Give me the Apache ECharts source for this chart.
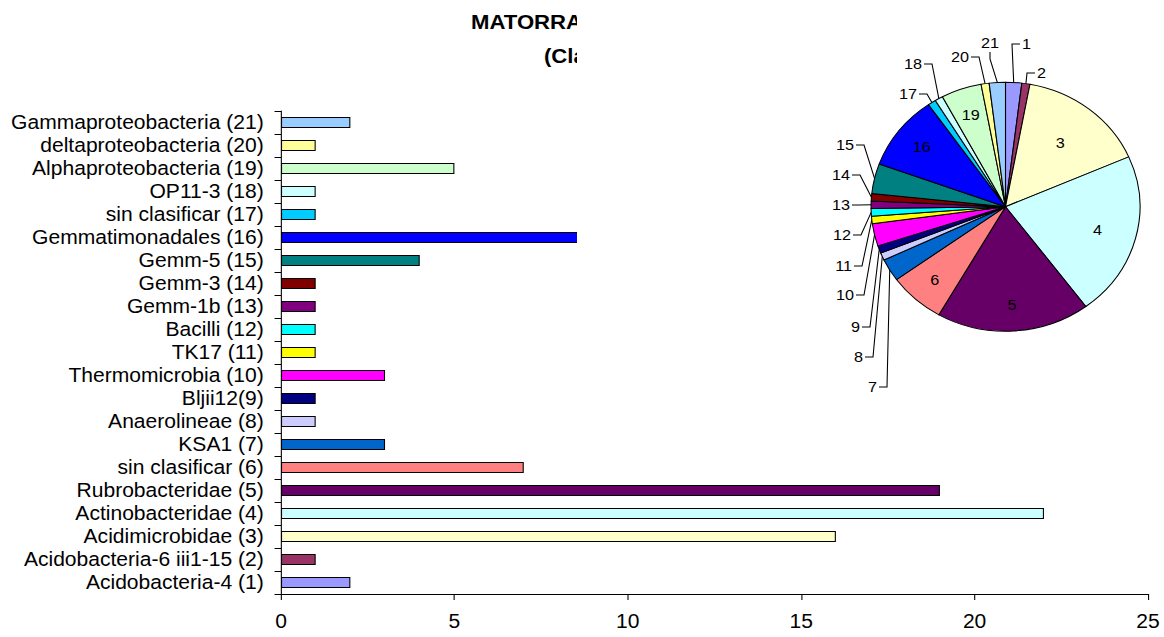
<!DOCTYPE html>
<html>
<head>
<meta charset="utf-8">
<script src="https://cdn.jsdelivr.net/npm/echarts@6/dist/echarts.min.js"></script>
<style>
  html, body { margin: 0; padding: 0; background: #fff; overflow: hidden; }
  /* The chart is laid out slightly narrower and stretched back horizontally,
     which gives the wide lettering and the oval pie of the original figure. */
  #chart { width: 1078px; height: 637px; transform: scaleX(1.08); transform-origin: 0 0; }
</style>
</head>
<body>
<div id="chart"></div>
<script>
// ---- data -------------------------------------------------------------
const classNames = [
  'Acidobacteria-4 (1)', 'Acidobacteria-6 iii1-15 (2)', 'Acidimicrobidae (3)',
  'Actinobacteridae (4)', 'Rubrobacteridae (5)', 'sin clasificar (6)', 'KSA1 (7)',
  'Anaerolineae (8)', 'Bljii12(9)', 'Thermomicrobia (10)', 'TK17 (11)', 'Bacilli (12)',
  'Gemm-1b (13)', 'Gemm-3 (14)', 'Gemm-5 (15)', 'Gemmatimonadales (16)',
  'sin clasificar (17)', 'OP11-3 (18)', 'Alphaproteobacteria (19)',
  'deltaproteobacteria (20)', 'Gammaproteobacteria (21)'
];
const classNumbers = ['1', '2', '3', '4', '5', '6', '7', '8', '9', '10', '11',
  '12', '13', '14', '15', '16', '17', '18', '19', '20', '21'];
const cloneCounts = [2, 1, 16, 22, 19, 7, 3, 1, 1, 3, 1, 1, 1, 1, 4, 10, 1, 1, 5, 1, 2];
const xAxisMin = 0;
const xAxisMax = 25;
const xAxisStep = 5;
const titleLines = ['MATORRAL', '(Clases)'];

// ---- styling ----------------------------------------------------------
const STRETCH = 1.08;
const sx = v => v / STRETCH;
const FONT = '"Liberation Sans", Arial, Helvetica, sans-serif';
const classColors = [
  '#9999FF', '#993366', '#FFFFCC', '#CCFFFF', '#660066', '#FF8080', '#0066CC',
  '#CCCCFF', '#000080', '#FF00FF', '#FFFF00', '#00FFFF', '#800080', '#800000',
  '#008080', '#0000FF', '#00CCFF', '#CCFFFF', '#CCFFCC', '#FFFF99', '#99CCFF'
];
// slices numbered inside the pie (with how far out along the slice); the rest get a leader line
const insideLabelled = { '3': 1.25, '4': 1.35, '5': 1.5, '6': 1.5, '16': 1.5, '19': 1.5 };
// where each outside label sits: [edge x, centre y, side the leader line leaves from]
const pieLabelSpots = {
  '1': [1022, 44, 'l'], '2': [1037, 73, 'l'], '21': [990, 43, 'b'],
  '20': [969, 57, 'r'], '18': [922, 64, 'r'], '17': [917, 94, 'r'],
  '15': [854, 145, 'r'], '14': [850, 175, 'r'], '13': [850, 205, 'r'],
  '12': [851, 235, 'r'], '11': [852, 266, 'r'], '10': [854, 295, 'r'],
  '9': [860, 327, 'r'], '8': [863, 357, 'r'], '7': [877, 387, 'r']
};
const PIE_CX = sx(1005.5);
const PIE_CY = 206.7;
const PIE_R = 124.5;

const chart = echarts.init(document.getElementById('chart'), null, { renderer: 'svg' });

const option = {
  animation: false,
  backgroundColor: '#fff',
  textStyle: { fontFamily: FONT },
  grid: { left: sx(281), right: 1078 - sx(1148), top: 111, bottom: 43, containLabel: false },
  xAxis: {
    type: 'value',
    min: xAxisMin, max: xAxisMax, interval: xAxisStep,
    axisLine: { show: true, lineStyle: { color: '#000', width: 1 } },
    axisTick: { show: true, length: 6, lineStyle: { color: '#000' } },
    axisLabel: { color: '#000', fontSize: 19.5, fontFamily: FONT, margin: 17 },
    splitLine: { show: false }
  },
  yAxis: {
    type: 'category',
    data: classNames,
    axisLine: { show: true, lineStyle: { color: '#000', width: 1 } },
    axisTick: { show: true, interval: 0, length: 6, lineStyle: { color: '#000' } },
    axisLabel: { interval: 0, color: '#000', fontSize: 19.5, fontFamily: FONT, margin: 16 }
  },
  series: [
    {
      type: 'bar',
      barWidth: 11,
      z: 2,
      data: cloneCounts.map((v, i) => ({
        value: v,
        itemStyle: { color: classColors[i], borderColor: '#000', borderWidth: 1 }
      }))
    },
    {
      type: 'pie',
      z: 60,
      center: [PIE_CX, PIE_CY],
      radius: PIE_R,
      startAngle: 90,
      clockwise: true,
      avoidLabelOverlap: false,
      itemStyle: { borderColor: '#000', borderWidth: 1 },
      label: { show: true, formatter: '{b}', color: '#000', fontSize: 15, fontFamily: FONT },
      labelLine: { show: true, length: 8, length2: 8, smooth: false,
                   lineStyle: { color: '#000', width: 1 } },
      data: cloneCounts.map((v, i) => {
        const inside = classNumbers[i] in insideLabelled;
        return {
          value: v,
          name: classNumbers[i],
          itemStyle: { color: classColors[i] },
          label: { position: inside ? 'inside' : 'outside' },
          labelLine: { show: !inside }
        };
      }),
      labelLayout: function (p) {
        const num = classNumbers[p.dataIndex];
        if (num in insideLabelled) {
          // push the inside numbers further out along their slice
          const k = insideLabelled[num];
          const lx = p.labelRect.x + p.labelRect.width / 2;
          const ly = p.labelRect.y + p.labelRect.height / 2;
          return {
            x: PIE_CX + (lx - PIE_CX) * k,
            y: PIE_CY + (ly - PIE_CY) * k,
            align: 'center', verticalAlign: 'middle'
          };
        }
        const spot = pieLabelSpots[num];
        const ex = sx(spot[0]);
        const ey = spot[1];
        const anchor = p.labelLinePoints ? p.labelLinePoints[0] : [ex, ey];
        let pts, align;
        if (spot[2] === 'r') {
          align = 'right';
          pts = [anchor, [ex + sx(10), ey], [ex + sx(2), ey]];
        } else if (spot[2] === 'l') {
          align = 'left';
          pts = [anchor, [ex - sx(10), ey], [ex - sx(2), ey]];
        } else {
          align = 'center';
          pts = [anchor, [ex, ey + 16], [ex, ey + 9]];
        }
        return { x: ex, y: ey, align: align, verticalAlign: 'middle', labelLinePoints: pts };
      }
    }
  ],
  graphic: [
    {
      type: 'text', left: sx(471), top: 12, z: 5,
      style: { text: titleLines[0], font: 'bold 20.5px ' + FONT, fill: '#000' }
    },
    {
      type: 'text', left: sx(544), top: 46, z: 5,
      style: { text: titleLines[1], font: 'bold 20.5px ' + FONT, fill: '#000' }
    },
    {
      // plot area of the pie, laid over the bars and the heading
      type: 'rect', z: 50,
      shape: { x: sx(577), y: 0, width: 1078 - sx(577), height: 400 },
      style: { fill: '#fff' }
    }
  ]
};

chart.setOption(option);
</script>
</body>
</html>
